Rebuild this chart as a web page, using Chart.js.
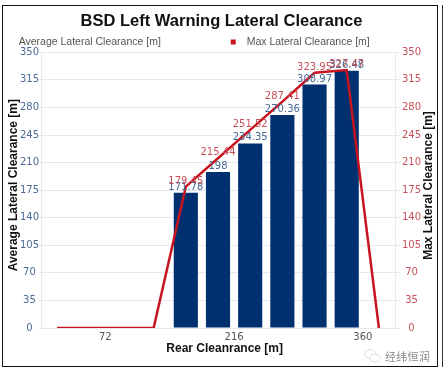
<!DOCTYPE html>
<html><head><meta charset="utf-8">
<style>
html,body{margin:0;padding:0;background:#fff;overflow:hidden}
#wrap{position:relative;width:443px;height:374px}
#frame{position:absolute;left:2px;top:5px;width:434px;height:360px;border:1.5px solid #111;pointer-events:none}
#edge{position:absolute;left:441.5px;top:5px;width:1.5px;height:362px;background:#333}
#mark{position:absolute;left:385px;top:348px;font:11px "Noto Sans CJK SC";color:#8a8a8a;letter-spacing:.3px;line-height:16px}
#icon{position:absolute;left:363px;top:347px}
</style></head><body>
<div id="wrap">
<canvas id="c" width="443" height="374"></canvas>
<div id="frame"></div><div id="edge"></div>
<svg id="icon" width="19" height="18"><ellipse cx="7" cy="7" rx="5.5" ry="4.5" fill="#fff" stroke="#dcdcdc"/><ellipse cx="12" cy="11" rx="5" ry="4" fill="#fff" stroke="#dcdcdc"/></svg>
<div id="mark">经纬恒润</div>
</div>
<script src="https://cdn.jsdelivr.net/npm/chart.js@4"></script>
<script>
const chartTitle = 'BSD Left Warning Lateral Clearance';
const avgName = 'Average Lateral Clearance [m]';
const maxName = 'Max Lateral Clearance [m]';
const xName = 'Rear Cleanrance [m]';
const rearClearance = [18, 54, 90, 126, 162, 198, 234, 270, 306, 342, 378];
const avgClearance = [null, null, null, null, 171.78, 198, 234.35, 270.36, 308.97, 326.48, null];
const maxClearance = [0, 0, 0, 0, 179.45, 215.44, 251.52, 287.41, 323.95, 327.47, 0];
const xTicks = [72, 216, 360];

const NAVY = '#00306f', RED = '#c8141e', BLUE_T = '#4a6a95', RED_T = '#c8505a', GRID = '#e6e9ef';
const DJ = '"DejaVu Sans"', LS = '"Liberation Sans"';

const valueLabels = {
  id: 'valueLabels',
  afterDatasetsDraw(chart) {
    const ctx = chart.ctx;
    ctx.save();
    ctx.font = '10px ' + DJ;
    ctx.textAlign = 'center';
    ctx.textBaseline = 'bottom';
    chart.data.datasets.forEach((ds, i) => {
      ctx.fillStyle = i === 0 ? BLUE_T : RED_T;
      chart.getDatasetMeta(i).data.forEach((el, k) => {
        const v = ds.data[k].y;
        if (v) ctx.fillText(String(v), el.x, el.y - 0.5);
      });
    });
    ctx.restore();
  }
};
const rightTitle = {
  id: 'rightTitle',
  afterDraw(chart) {
    const ctx = chart.ctx;
    ctx.save();
    ctx.translate(429, 185.5);
    ctx.rotate(-Math.PI / 2);
    ctx.font = 'bold 12px ' + LS;
    ctx.fillStyle = '#111';
    ctx.textAlign = 'center';
    ctx.textBaseline = 'middle';
    ctx.fillText(maxName, 0, 0);
    ctx.restore();
  }
};
const legendHeight = {
  id: 'legendHeight',
  beforeLayout(chart) {
    const lg = chart.legend;
    if (lg._baseFit) return;
    lg._baseFit = lg.fit;
    lg.fit = function () { this._baseFit(); this.height -= 5; };
  }
};

new Chart(document.getElementById('c'), {
  type: 'bar',
  data: { datasets: [
    { type: 'bar', label: avgName, order: 1, backgroundColor: NAVY,
      data: rearClearance.map((x, i) => ({ x, y: avgClearance[i] })),
      barPercentage: 0.75, categoryPercentage: 1 },
    { type: 'line', label: maxName, order: 0, borderColor: RED, backgroundColor: RED,
      borderWidth: 2.5, pointRadius: 0, tension: 0, yAxisID: 'y2',
      data: rearClearance.map((x, i) => ({ x, y: maxClearance[i] })) }
  ]},
  plugins: [valueLabels, rightTitle, legendHeight],
  options: {
    responsive: false, animation: false,
    layout: { padding: { top: 12, left: 0, right: 0, bottom: 18 } },
    plugins: {
      tooltip: { enabled: false },
      title: { display: true, text: chartTitle, color: '#111', font: { family: LS, size: 16.5, weight: 'bold', lineHeight: 1.2 }, padding: { top: 0, bottom: 5 } },
      legend: {
        display: true, position: 'top', align: 'start',
        labels: {
          padding: 0, boxWidth: 14, boxHeight: 5, usePointStyle: true, color: '#555',
          font: { family: LS, size: 10.5 },
          sort: (a, b) => a.datasetIndex - b.datasetIndex,
          generateLabels(chart) {
            const items = Chart.defaults.plugins.legend.labels.generateLabels(chart);
            items.forEach(it => {
              it.pointStyle = 'rect';
              it.lineWidth = 0;
              it.text = ' ' + it.text;
              if (it.datasetIndex === 0) {
                it.fillStyle = 'rgba(0,0,0,0)'; it.strokeStyle = 'rgba(0,0,0,0)';
                it.text = it.text + ' '.repeat(23);
              } else { it.fillStyle = RED; it.strokeStyle = RED; }
            });
            return items;
          }
        }
      }
    },
    scales: {
      x: {
        type: 'linear', min: 0, max: 396, offset: false,
        afterBuildTicks: s => { s.ticks = xTicks.map(value => ({ value })); },
        afterFit: s => { s.height = 28; },
        grid: { display: false, tickLength: 0 },
        border: { color: GRID },
        ticks: { color: '#555', font: { family: DJ, size: 10 }, maxRotation: 0, autoSkip: false, padding: 3 },
        title: { display: true, text: '    ' + xName, color: '#111', font: { family: LS, size: 12, weight: 'bold' }, padding: { top: 2, bottom: 0 } }
      },
      y: {
        position: 'left', min: 0, max: 350,
        afterFit: s => { s.width = 41; },
        grid: { color: GRID, tickLength: 2, tickColor: GRID },
        border: { color: GRID },
        ticks: { stepSize: 35, color: BLUE_T, padding: 0, crossAlign: 'center', font: { family: DJ, size: 10 } },
        title: { display: true, text: '   ' + avgName, color: '#111', font: { family: LS, size: 12, weight: 'bold' }, padding: { top: 6, bottom: 0 } }
      },
      y2: {
        position: 'right', min: 0, max: 350,
        afterFit: s => { s.width = 48; },
        grid: { drawOnChartArea: false, color: GRID, tickLength: 5, tickColor: GRID },
        border: { color: GRID },
        ticks: { stepSize: 35, color: RED_T, padding: 2, crossAlign: 'center', font: { family: DJ, size: 10 } }
      }
    }
  }
});
</script>
</body></html>
